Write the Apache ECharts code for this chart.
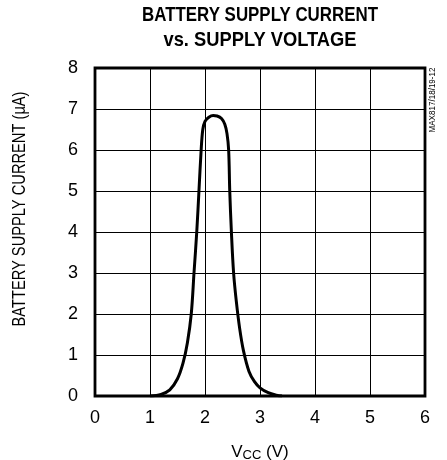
<html>
<head>
<meta charset="utf-8">
<script src="https://cdn.jsdelivr.net/npm/echarts@6/dist/echarts.min.js"></script>
<style>
  body { margin: 0; background: #fff; }
  #main { width: 447px; height: 460px; }
</style>
</head>
<body>
<div id="main"></div>
<script>
// supply voltage (V) and battery supply current (uA)
var vcc = [1.0, 1.2, 1.36, 1.5, 1.6, 1.68, 1.75, 1.8, 1.85, 1.89, 1.93, 1.96, 2.0, 2.07, 2.15, 2.22, 2.3, 2.36, 2.4, 2.43, 2.45, 2.48, 2.52, 2.57, 2.63, 2.7, 2.8, 2.9, 3.0, 3.15, 3.3, 3.4];
var current = [0.0, 0.04, 0.15, 0.42, 0.8, 1.3, 2.0, 3.0, 4.0, 5.0, 6.0, 6.5, 6.7, 6.8, 6.84, 6.83, 6.77, 6.63, 6.4, 6.0, 5.0, 4.0, 3.0, 2.3, 1.65, 1.1, 0.6, 0.35, 0.2, 0.08, 0.02, 0.0];
var xTicks = [0, 1, 2, 3, 4, 5, 6];
var yTicks = [0, 1, 2, 3, 4, 5, 6, 7, 8];

var font = '"Liberation Sans", Arial, sans-serif';
var pts = vcc.map(function (v, i) { return [v, current[i]]; });

// squeeze a text horizontally so it spans a given width (narrow typeface look)
var ctx = document.createElement('canvas').getContext('2d');
function fitScale(text, size, weight, width) {
  ctx.font = weight + ' ' + size + 'px ' + font;
  return width / ctx.measureText(text).width;
}
function narrowText(text, size, weight, width, x, y, rot) {
  return {
    type: 'text', x: x, y: y, rotation: rot || 0, scaleX: fitScale(text, size, weight, width),
    style: { text: text, fontFamily: font, fontSize: size, fontWeight: weight, fill: '#000', align: 'center', verticalAlign: 'middle' }
  };
}

var chart = echarts.init(document.getElementById('main'));
chart.setOption({
  animation: false,
  grid: { left: 95, right: 22, top: 68, bottom: 64, outerBoundsMode: 'none', show: true, borderColor: '#000', borderWidth: 2.8, backgroundColor: 'transparent' },
  xAxis: {
    type: 'value', min: xTicks[0], max: xTicks[xTicks.length - 1], interval: 1,
    axisLine: { show: false }, axisTick: { show: false },
    splitLine: { lineStyle: { color: '#000', width: 1 } },
    axisLabel: { margin: 13, fontFamily: font, fontSize: 18, color: '#000' },
    name: '{n|V}{s|CC}{n| (V)}', nameLocation: 'middle', nameGap: 47,
    nameTextStyle: { rich: { n: { fontFamily: font, fontSize: 17, color: '#000' }, s: { fontFamily: font, fontSize: 13, color: '#000', verticalAlign: 'bottom', padding: [6, 0, 0, 0] } } }
  },
  yAxis: {
    type: 'value', min: yTicks[0], max: yTicks[yTicks.length - 1], interval: 1,
    axisLine: { show: false }, axisTick: { show: false },
    splitLine: { lineStyle: { color: '#000', width: 1 } },
    axisLabel: { margin: 17, fontFamily: font, fontSize: 18, color: '#000' }
  },
  graphic: [
    narrowText('BATTERY SUPPLY CURRENT', 21, 'bold', 236, 260, 15),
    narrowText('vs. SUPPLY VOLTAGE', 21, 'bold', 193, 260, 40),
    narrowText('BATTERY SUPPLY CURRENT (\u00b5A)', 18, 'normal', 235, 20, 209, Math.PI / 2),
    narrowText('MAX817/18/19-12', 9, 'normal', 65, 433, 100, Math.PI / 2)
  ],
  series: [{
    type: 'line', data: pts, smooth: 0.35, showSymbol: false,
    lineStyle: { color: '#000', width: 3 }
  }]
});
</script>
</body>
</html>
